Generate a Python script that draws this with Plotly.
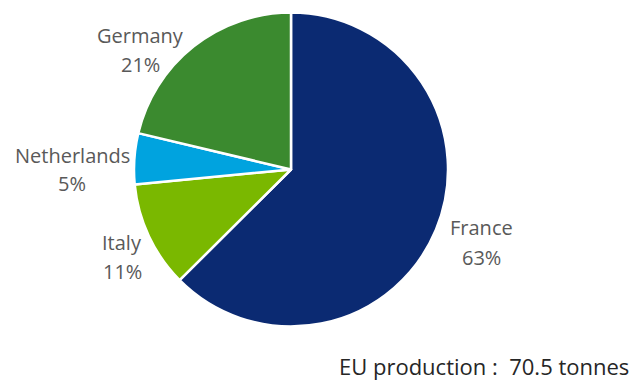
import plotly.graph_objects as go

countries = ["France", "Italy", "Netherlands", "Germany"]
tonnes = [44.1, 7.7, 3.7, 15.0]
colors = ["#0B2A72", "#7AB800", "#00A3DF", "#3B8A2F"]
total_label = "EU production :  70.5 tonnes"

total = sum(tonnes)
pcts = [round(v / total * 100) for v in tonnes]

fig = go.Figure(go.Pie(
    labels=countries,
    values=tonnes,
    sort=False,
    direction="clockwise",
    rotation=0,
    marker=dict(colors=colors, line=dict(color="white", width=2.5)),
    textinfo="none",
    hoverinfo="label+percent",
    showlegend=False,
    domain=dict(x=[134/633, 448/633], y=[56/383, 371/383]),
))

# label positions (pixel coordinates: centre x, name line y, percent line y)
label_pos = {"France": (481, 227, 257), "Italy": (122, 242, 271),
             "Netherlands": (72, 155, 184), "Germany": (140, 35, 65)}
font = dict(family="Open Sans, sans-serif", size=20, color="#595959")
for c, p in zip(countries, pcts):
    x, y1, y2 = label_pos[c]
    for txt, yy in ((c, y1), (f"{p}%", y2)):
        fig.add_annotation(x=x/633, y=1 - yy/383, xref="paper", yref="paper",
                           text=txt, showarrow=False, font=font,
                           xanchor="center", yanchor="middle", align="center")

fig.add_annotation(x=631/633, y=1 - 366/383, xref="paper", yref="paper",
                   text=total_label, showarrow=False,
                   font=dict(family="Open Sans, sans-serif", size=22, color="#262626"),
                   xanchor="right", yanchor="middle")

fig.update_layout(width=633, height=383, margin=dict(l=0, r=0, t=0, b=0),
                  paper_bgcolor="white", plot_bgcolor="white")
fig.write_html("out.html", config={"displayModeBar": False},
               post_script="document.body.style.margin='0';document.body.style.overflow='hidden';")
